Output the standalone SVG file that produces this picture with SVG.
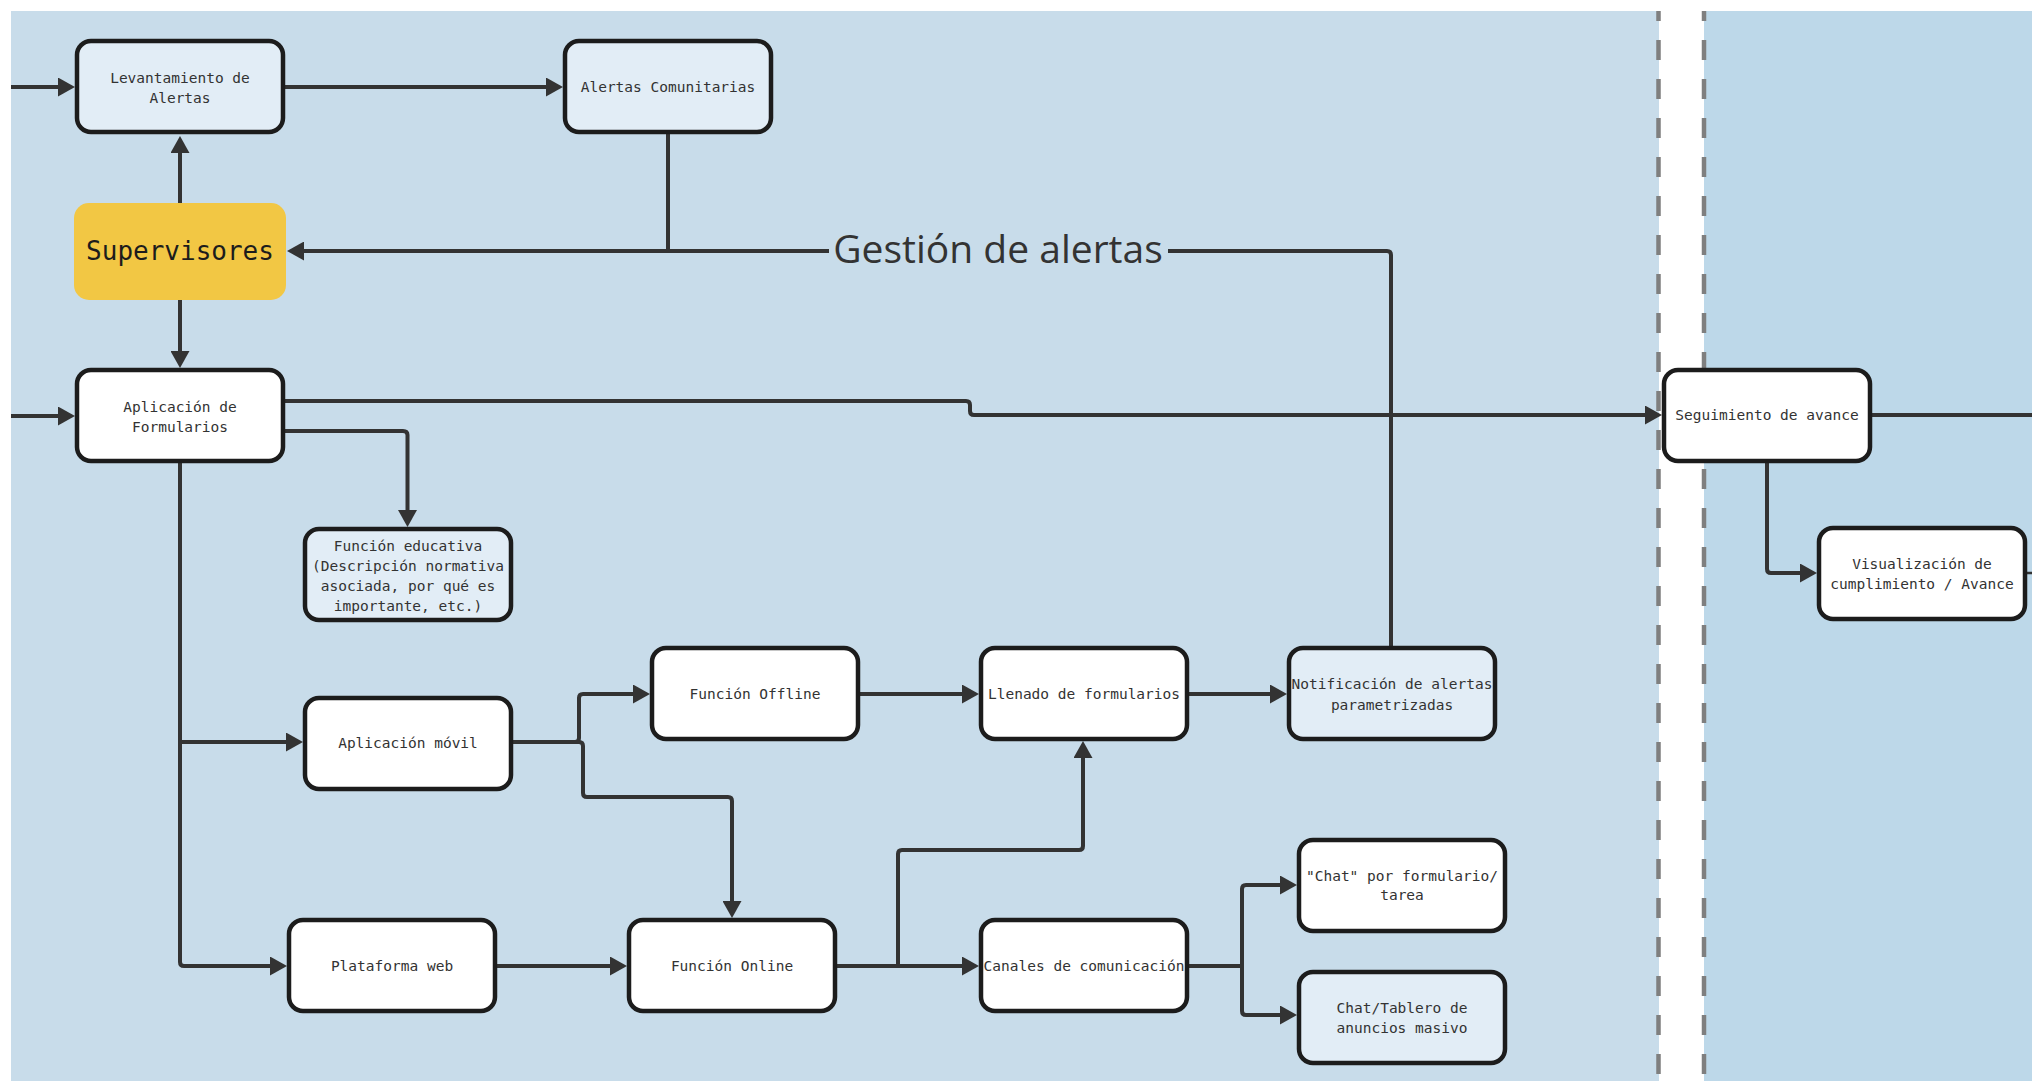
<svg xmlns="http://www.w3.org/2000/svg" width="2032" height="1081" viewBox="0 0 2032 1081">
  <style>
    .lane-a { fill: #c8dcea; }
    .lane-b { fill: #bdd8e9; }
    .divider { stroke: #7f7f7f; stroke-width: 4.5; stroke-dasharray: 20 19; stroke-dashoffset: 10; fill: none; }
    .box { stroke: #1c1c1c; stroke-width: 4.5; }
    .plain { fill: #ffffff; }
    .tint { fill: #e2edf6; }
    .lbl { font-family: "DejaVu Sans Mono", "Liberation Mono", monospace; font-size: 14.5px; fill: #333333; text-anchor: middle; }
    .actor { font-family: "DejaVu Sans Mono", "Liberation Mono", monospace; font-size: 26px; fill: #1c1c1c; text-anchor: middle; }
    .edge { fill: none; stroke: #333333; stroke-width: 4; stroke-linejoin: round; }
    .edge-label { font-family: "Open Sans", "Noto Sans", sans-serif; font-size: 39px; fill: #333333; text-anchor: middle; }
  </style>
  <defs>
    <marker id="arrow" viewBox="0 0 17 19" markerWidth="17" markerHeight="19" refX="11" refY="9.5" orient="auto" markerUnits="userSpaceOnUse">
      <path d="M0,0 L17,9.5 L0,19 z" fill="#333333"/>
    </marker>
  </defs>

  <!-- swimlane backgrounds -->
  <rect width="2032" height="1081" fill="#ffffff"/>
  <rect class="lane-a" x="11" y="11" width="1648" height="1070"/>
  <rect class="lane-b" x="1704" y="11" width="328" height="1070"/>
  <line class="divider" x1="1658.5" y1="11" x2="1658.5" y2="1081"/>
  <line class="divider" x1="1704" y1="11" x2="1704" y2="1081"/>

  <!-- connectors -->
  <g id="connectors">
    <path class="edge" d="M11,87 H69" marker-end="url(#arrow)"/>
    <path class="edge" d="M285,87 H557" marker-end="url(#arrow)"/>
    <path class="edge" d="M180,203 V142" marker-end="url(#arrow)"/>
    <path class="edge" d="M180,300 V362" marker-end="url(#arrow)"/>
    <path class="edge" d="M668,134 V251"/>
    <path class="edge" d="M1391,646 V255 Q1391,251 1387,251 H293" marker-end="url(#arrow)"/>
    <path class="edge" d="M11,416 H69" marker-end="url(#arrow)"/>
    <path class="edge" d="M285,401 H966 Q970,401 970,405 V411 Q970,415 974,415 H1656" marker-end="url(#arrow)"/>
    <path class="edge" d="M285,431 H403 Q407.5,431 407.5,435 V521" marker-end="url(#arrow)"/>
    <path class="edge" d="M180,463 V962 Q180,966 184,966 H281" marker-end="url(#arrow)"/>
    <path class="edge" d="M180,742 H297" marker-end="url(#arrow)"/>
    <path class="edge" d="M513,742 H575 Q579,742 579,738 V698 Q579,694 583,694 H644" marker-end="url(#arrow)"/>
    <path class="edge" d="M575,742 H579 Q583,742 583,746 V793 Q583,797 587,797 H728 Q732,797 732,801 V912" marker-end="url(#arrow)"/>
    <path class="edge" d="M860,694 H973" marker-end="url(#arrow)"/>
    <path class="edge" d="M1189,694 H1281" marker-end="url(#arrow)"/>
    <path class="edge" d="M497,966 H621" marker-end="url(#arrow)"/>
    <path class="edge" d="M837,966 H973" marker-end="url(#arrow)"/>
    <path class="edge" d="M898,966 V854 Q898,850 902,850 H1079 Q1083,850 1083,846 V747" marker-end="url(#arrow)"/>
    <path class="edge" d="M1189,966 H1242 V889 Q1242,885 1246,885 H1291" marker-end="url(#arrow)"/>
    <path class="edge" d="M1242,966 V1011 Q1242,1015 1246,1015 H1291" marker-end="url(#arrow)"/>
    <path class="edge" d="M1872,415 H2032"/>
    <path class="edge" d="M1767,463 V569 Q1767,573 1771,573 H1811" marker-end="url(#arrow)"/>
    <path class="edge" d="M2027,573 H2032" style="stroke-width:2.5"/>
    <rect x="829" y="244" width="339" height="14" fill="#c8dcea"/>
    <text class="edge-label" x="998" y="263">Gestión de alertas</text>
  </g>

  <!-- nodes -->
  <g id="levantamiento">
    <rect class="box tint" x="77" y="41" width="206" height="91" rx="14"/>
    <text class="lbl" x="180" y="83">Levantamiento de</text>
    <text class="lbl" x="180" y="103">Alertas</text>
  </g>
  <g id="alertas-comunitarias">
    <rect class="box tint" x="565" y="41" width="206" height="91" rx="14"/>
    <text class="lbl" x="668" y="92">Alertas Comunitarias</text>
  </g>
  <g id="supervisores">
    <rect x="74" y="203" width="212" height="97" rx="15" fill="#f2c744"/>
    <text class="actor" x="180" y="260">Supervisores</text>
  </g>
  <g id="aplicacion-formularios">
    <rect class="box plain" x="77" y="370" width="206" height="91" rx="14"/>
    <text class="lbl" x="180" y="412">Aplicación de</text>
    <text class="lbl" x="180" y="432">Formularios</text>
  </g>
  <g id="funcion-educativa">
    <rect class="box tint" x="305" y="529" width="206" height="91" rx="14"/>
    <text class="lbl" x="408" y="551">Función educativa</text>
    <text class="lbl" x="408" y="571">(Descripción normativa</text>
    <text class="lbl" x="408" y="591">asociada, por qué es</text>
    <text class="lbl" x="408" y="611">importante, etc.)</text>
  </g>
  <g id="aplicacion-movil">
    <rect class="box plain" x="305" y="698" width="206" height="91" rx="14"/>
    <text class="lbl" x="408" y="748">Aplicación móvil</text>
  </g>
  <g id="plataforma-web">
    <rect class="box plain" x="289" y="920" width="206" height="91" rx="14"/>
    <text class="lbl" x="392" y="971">Plataforma web</text>
  </g>
  <g id="funcion-offline">
    <rect class="box plain" x="652" y="648" width="206" height="91" rx="14"/>
    <text class="lbl" x="755" y="699">Función Offline</text>
  </g>
  <g id="llenado-formularios">
    <rect class="box plain" x="981" y="648" width="206" height="91" rx="14"/>
    <text class="lbl" x="1084" y="699">Llenado de formularios</text>
  </g>
  <g id="notificacion-alertas">
    <rect class="box tint" x="1289" y="648" width="206" height="91" rx="14"/>
    <text class="lbl" x="1392" y="689">Notificación de alertas</text>
    <text class="lbl" x="1392" y="710">parametrizadas</text>
  </g>
  <g id="funcion-online">
    <rect class="box plain" x="629" y="920" width="206" height="91" rx="14"/>
    <text class="lbl" x="732" y="971">Función Online</text>
  </g>
  <g id="canales-comunicacion">
    <rect class="box plain" x="981" y="920" width="206" height="91" rx="14"/>
    <text class="lbl" x="1084" y="971">Canales de comunicación</text>
  </g>
  <g id="chat-formulario">
    <rect class="box plain" x="1299" y="840" width="206" height="91" rx="14"/>
    <text class="lbl" x="1402" y="881">"Chat" por formulario/</text>
    <text class="lbl" x="1402" y="900">tarea</text>
  </g>
  <g id="chat-tablero">
    <rect class="box tint" x="1299" y="972" width="206" height="91" rx="14"/>
    <text class="lbl" x="1402" y="1013">Chat/Tablero de</text>
    <text class="lbl" x="1402" y="1033">anuncios masivo</text>
  </g>
  <g id="seguimiento-avance">
    <rect class="box plain" x="1664" y="370" width="206" height="91" rx="14"/>
    <text class="lbl" x="1767" y="420">Seguimiento de avance</text>
  </g>
  <g id="visualizacion-cumplimiento">
    <rect class="box plain" x="1819" y="528" width="206" height="91" rx="14"/>
    <text class="lbl" x="1922" y="569">Visualización de</text>
    <text class="lbl" x="1922" y="589">cumplimiento / Avance</text>
  </g>
</svg>
